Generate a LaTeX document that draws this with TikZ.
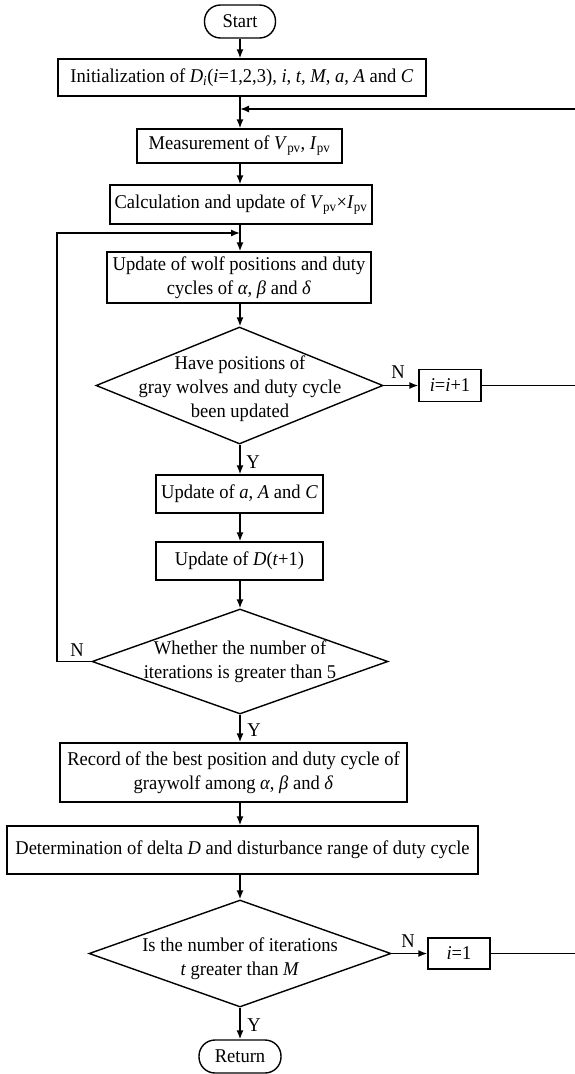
\documentclass[tikz,border=0pt]{standalone}
\usepackage{fontspec}
\setmainfont{Liberation Serif}[FakeStretch=0.95]
\usetikzlibrary{shapes.geometric,arrows.meta}
\newcommand{\mi}[1]{\textit{#1}}
\newcommand{\pv}{\textsubscript{pv}}
\tikzset{
  txt/.style={font=\fontsize{19.5}{24}\selectfont, inner sep=0pt},
  box/.style={txt, draw, rectangle, align=center},
  term/.style={txt, draw, rectangle, rounded corners=16pt},
  dia/.style={draw, diamond, inner sep=0pt},
  arr/.style={-{Latex[length=9pt,width=7pt]}},
  lbl/.style={txt}
}
\begin{document}
\begin{tikzpicture}[x=1pt,y=-1pt,line width=1.4pt]
\useasboundingbox (0,0) rectangle (574,1074);
\coordinate (ax) at (240,0);
\coordinate (rx) at (578,0);
\coordinate (lx) at (57,0);
\coordinate (jr) at (240,109);
\coordinate (jl) at (240,233);

\node[term, minimum width=71pt, minimum height=33pt] (start) at (240,21.5) {Start};
\node[box, minimum width=368pt, minimum height=37pt] (init) at (242,77.5)
  {Initialization of \mi{D}\textsubscript{\mi{i}}(\mi{i}=1,2,3), \mi{i}, \mi{t}, \mi{M}, \mi{a}, \mi{A} and \mi{C}};
\node[box, minimum width=205pt, minimum height=34pt] (meas) at (239.5,146)
  {Measurement of \mi{V}\pv, \mi{I}\pv};
\node[box, minimum width=262pt, minimum height=39pt] (calc) at (241,204.5)
  {Calculation and update of \mi{V}\pv×\mi{I}\pv};
\node[box, minimum width=264pt, minimum height=51pt] (wolf) at (239,277.5)
  {Update of wolf positions and duty\\cycles of \mi{α}, \mi{β} and \mi{δ}};
\node[dia, minimum width=287pt, minimum height=117pt] (d1) at (239.5,385.5) {};
\node[txt, align=center] (t1) at (240,389) {Have positions of\\gray wolves and duty cycle\\been updated};
\node[box, minimum width=62pt, minimum height=32pt] (inc) at (450,385.5) {\mi{i}=\mi{i}+1};
\node[box, minimum width=167pt, minimum height=38pt] (upda) at (239.5,494) {Update of \mi{a}, \mi{A} and \mi{C}};
\node[box, minimum width=167pt, minimum height=38pt] (updd) at (239.5,561) {Update of \mi{D}(\mi{t}+1)};
\node[dia, minimum width=296pt, minimum height=105pt] (d2) at (240,661.5) {};
\node[txt, align=center] (t2) at (240,662) {Whether the number of\\iterations is greater than 5};
\node[box, minimum width=347pt, minimum height=59pt] (rec) at (233.5,772.5)
  {Record of the best position and duty cycle of\\graywolf among \mi{α}, \mi{β} and \mi{δ}};
\node[box, minimum width=471pt, minimum height=48pt] (det) at (242.5,850)
  {Determination of delta \mi{D} and disturbance range of duty cycle};
\node[dia, minimum width=302pt, minimum height=107pt] (d3) at (240,953.5) {};
\node[txt, align=center] (t3) at (240,959) {Is the number of iterations\\\mi{t} greater than \mi{M}};
\node[box, minimum width=62pt, minimum height=31pt] (rst) at (459,953.5) {\mi{i}=1};
\node[term, minimum width=82pt, minimum height=33pt] (ret) at (240,1056.5) {Return};

\node[lbl] (n1) at (398,372) {N};
\node[lbl] (y1) at (253,462) {Y};
\node[lbl] (n2) at (77,650) {N};
\node[lbl] (y2) at (254,730) {Y};
\node[lbl] (n3) at (408,941) {N};
\node[lbl] (y3) at (254,1025) {Y};

\draw[arr] (start.south -| ax) -- (init.north -| ax);
\draw[arr] (init.south -| ax) -- (meas.north -| ax);
\draw[arr] (meas.south -| ax) -- (calc.north -| ax);
\draw[arr] (calc.south -| ax) -- (wolf.north -| ax);
\draw[arr] (wolf.south -| ax) -- (d1.north -| ax);
\draw[arr] (d1.east) -- (inc.west);
\draw (inc.east) -- (inc.east -| rx);
\draw[arr] (d1.south -| ax) -- (upda.north -| ax);
\draw[arr] (upda.south -| ax) -- (updd.north -| ax);
\draw[arr] (updd.south -| ax) -- (d2.north -| ax);
\draw[arr] (d2.west) -- (d2.west -| lx) -- (lx |- jl) -- (jl);
\draw[arr] (d2.south -| ax) -- (rec.north -| ax);
\draw[arr] (rec.south -| ax) -- (det.north -| ax);
\draw[arr] (det.south -| ax) -- (d3.north -| ax);
\draw[arr] (d3.east) -- (rst.west);
\draw[arr] (rst.east) -- (rst.east -| rx) -- (rx |- jr) -- (jr);
\draw[arr] (d3.south -| ax) -- (ret.north -| ax);
\end{tikzpicture}
\end{document}
